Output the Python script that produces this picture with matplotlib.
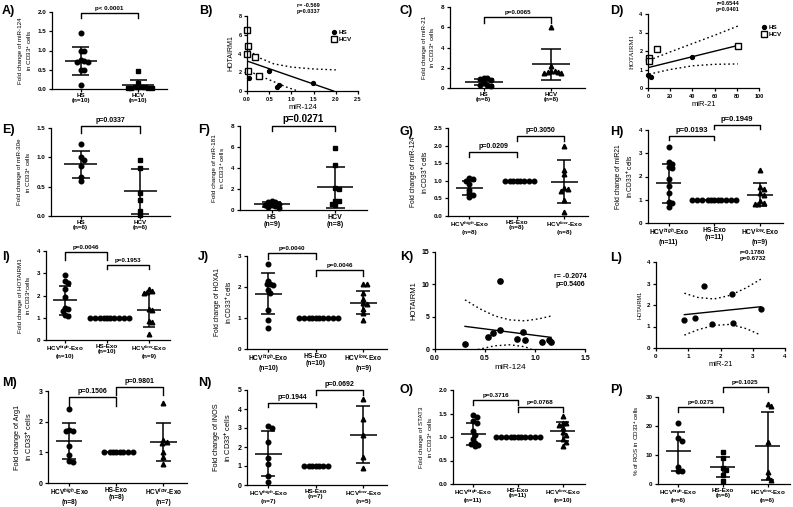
import numpy as np
import matplotlib
matplotlib.use('Agg')
import matplotlib.pyplot as plt

W, H = 793, 507

plt.rcParams['font.family'] = ['Liberation Sans', 'DejaVu Sans']
plt.rcParams['font.weight'] = 'bold'
plt.rcParams['mathtext.fontset'] = 'custom'
plt.rcParams['mathtext.rm'] = 'Liberation Sans:bold'
plt.rcParams['mathtext.it'] = 'Liberation Sans:italic:bold'
plt.rcParams['mathtext.bf'] = 'Liberation Sans:bold'

# ---- data ----
# A) miR-124, HS vs HCV
a_hs = [1.46, 1.0, 0.98, 0.76, 0.72, 0.70, 0.70, 0.50, 0.50, 0.10]
a_hcv = [0.47, 0.16, 0.06, 0.05, 0.05, 0.04, 0.03, 0.03, 0.02, 0.02]
a_mean = [0.73, 0.10]
a_sd = [0.37, 0.13]

# B) HOTAIRM1 vs miR-124
b_hs_x = [0.05, 0.50, 0.67, 0.73, 1.48]
b_hs_y = [1.4, 2.1, 0.45, 0.65, 0.85]
b_hcv_x = [0.0, 0.02, 0.0, 0.18, 0.03, 0.28]
b_hcv_y = [6.5, 4.8, 3.9, 3.6, 2.1, 1.6]
b_fit_x = [0.0, 1.95]
b_fit_y = [3.2, 0.0]
b_up_x = [0.05, 0.3, 0.6, 1.0, 1.5, 2.0]
b_up_y = [4.3, 3.5, 2.9, 2.55, 2.35, 2.25]
b_lo_x = [0.05, 0.3, 0.6, 0.9, 1.15]
b_lo_y = [2.1, 1.6, 1.0, 0.4, 0.0]

# C) miR-21, HS vs HCV
c_hs = [0.95, 0.95, 0.9, 0.8, 0.5, 0.3, 0.25, 0.2]
c_hcv = [6.05, 2.2, 1.7, 1.7, 1.6, 1.55, 1.5, 1.5]
c_mean = [0.55, 2.35]
c_sd = [0.3, 1.55]

# D) HOTAIRM1 vs miR-21
d_hs_x = [0.0, 1.0, 3.0, 40.0]
d_hs_y = [0.7, 0.65, 0.6, 1.7]
d_hcv_x = [1.0, 1.0, 8.0, 81.0]
d_hcv_y = [1.6, 1.45, 2.1, 2.25]
d_fit_x = [0.0, 81.0]
d_fit_y = [1.1, 2.3]
d_up_x = [1, 20, 40, 60, 81]
d_up_y = [1.5, 1.95, 2.4, 2.85, 3.35]
d_lo_x = [1, 20, 40, 60, 81]
d_lo_y = [0.75, 1.0, 1.2, 1.28, 1.3]

# E) miR-30e
e_hs = [1.22, 1.0, 0.95, 0.85, 0.67, 0.59]
e_hcv = [0.96, 0.81, 0.40, 0.27, 0.08, 0.01]
e_mean = [0.88, 0.42]
e_sd = [0.235, 0.38]

# F) miR-181
f_hs = [0.85, 0.8, 0.75, 0.55, 0.5, 0.5, 0.4, 0.3, 0.2]
f_hcv = [5.9, 4.25, 2.05, 2.0, 0.85, 0.85, 0.6, 0.45]
f_mean = [0.55, 2.15]
f_sd = [0.25, 1.95]

# G) miR-124 after exosome treatment
g_hi = [1.07, 1.05, 1.0, 0.92, 0.75, 0.65, 0.6, 0.55]
g_hs = [1.0] * 8
g_lo = [2.0, 1.3, 1.2, 0.8, 0.78, 0.72, 0.45, 0.1]
g_mean = [0.8, 1.0, 0.98]
g_sd = [0.19, 0.0, 0.62]

# H) miR21
h_hi = [3.25, 2.62, 2.55, 2.4, 2.38, 1.9, 1.6, 1.3, 0.9, 0.88, 0.7]
h_hs = [1.0] * 11
h_lo = [2.3, 1.55, 1.45, 1.3, 1.2, 0.95, 0.82, 0.8, 0.85]
h_mean = [1.7, 1.0, 1.22]
h_sd = [0.85, 0.0, 0.5]

# I) HOTAIRM1
i_hi = [2.9, 2.65, 2.55, 2.3, 1.95, 1.45, 1.38, 1.3, 1.12, 1.1]
i_hs = [1.0] * 10
i_lo = [2.3, 2.2, 2.15, 2.1, 1.4, 1.35, 0.85, 0.8, 0.25]
i_mean = [1.78, 1.0, 1.35]
i_sd = [0.66, 0.0, 0.75]

# J) HOXA1
j_hi = [2.75, 2.2, 2.1, 2.1, 2.08, 1.9, 1.8, 1.25, 0.95, 0.67]
j_hs = [1.0] * 10
j_lo = [2.1, 2.1, 1.8, 1.6, 1.48, 1.45, 1.3, 1.15, 0.95]
j_mean = [1.78, 1.0, 1.5]
j_sd = [0.66, 0.0, 0.38]

# K) HOTAIRM1 vs miR-124
k_x = [0.30, 0.53, 0.58, 0.65, 0.65, 0.82, 0.88, 0.90, 1.07, 1.14, 1.16]
k_y = [0.75, 1.8, 2.55, 10.5, 2.9, 1.6, 2.6, 1.4, 1.15, 1.4, 1.1]
k_fit_x = [0.30, 1.16]
k_fit_y = [3.5, 1.8]
k_up_x = [0.30, 0.45, 0.6, 0.75, 0.9, 1.05, 1.16]
k_up_y = [7.6, 6.2, 5.1, 4.5, 4.35, 4.7, 5.1]
k_lo_x = [0.30, 0.45, 0.6, 0.75, 0.9, 1.05, 1.16]
k_lo_y = [-0.6, 0.0, 0.5, 0.65, 0.35, -0.6, -1.5]

# L) HOTAIRM1 vs miR-21
l_x = [0.88, 1.2, 1.5, 1.75, 2.35, 2.4, 3.25]
l_y = [1.3, 1.4, 2.9, 1.1, 2.5, 1.15, 1.8]
l_fit_x = [0.88, 3.25]
l_fit_y = [1.55, 1.92]
l_up_x = [0.88, 1.3, 1.8, 2.3, 2.8, 3.25]
l_up_y = [2.55, 2.35, 2.28, 2.45, 2.8, 3.2]
l_lo_x = [0.88, 1.3, 1.8, 2.3, 2.8, 3.25]
l_lo_y = [0.6, 0.85, 1.05, 1.1, 0.9, 0.6]

# M) Arg1
m_hi = [2.4, 1.72, 1.7, 1.7, 1.2, 0.9, 0.72, 0.7]
m_hs = [1.0] * 8
m_lo = [2.6, 1.4, 1.35, 1.3, 1.0, 0.85, 0.62]
m_mean = [1.37, 1.0, 1.34]
m_sd = [0.6, 0.0, 0.62]

# N) iNOS
n_hi = [3.1, 3.0, 2.25, 1.4, 1.1, 0.5, 0.15]
n_hs = [1.0] * 7
n_lo = [4.55, 3.5, 2.65, 1.45, 0.88]
n_mean = [1.65, 1.0, 2.65]
n_sd = [1.18, 0.0, 1.5]

# O) STAT3
o_hi = [1.47, 1.43, 1.35, 1.3, 1.12, 1.05, 0.95, 0.88, 0.85, 0.82, 0.8]
o_hs = [1.0] * 11
o_lo = [1.45, 1.3, 1.3, 1.25, 1.2, 1.1, 1.05, 0.95, 0.9, 0.8]
o_mean = [1.07, 1.0, 1.12]
o_sd = [0.23, 0.0, 0.2]

# P) % ROS
p_hi = [21, 16, 15, 6, 4.5, 4.5]
p_hs = [11, 9, 5.5, 5, 3, 1]
p_lo = [27.5, 27, 14.5, 4, 2.5, 1.5]
p_mean = [11.3, 5.75, 13.0]
p_sd = [6.8, 3.5, 11.7]

fig = plt.figure(figsize=(W / 100, H / 100), dpi=100)


def add_ax(l, t, r, b, fs=4.5):
    ax = fig.add_axes([l / W, 1 - b / H, (r - l) / W, (b - t) / H])
    for s in ['top', 'right']:
        ax.spines[s].set_visible(False)
    for s in ['left', 'bottom']:
        ax.spines[s].set_linewidth(0.9)
    ax.tick_params(width=0.9, length=2.5, labelsize=fs, pad=1.5)
    return ax, r - l, b - t


def swarm(vals, sx, sy, d=3.4):
    vals = np.asarray(vals, dtype=float)
    order = np.argsort(-vals)
    placed = []
    offs = np.zeros(len(vals))
    cands = [0.0]
    for j in range(1, 40):
        cands += [j * d / 2, -j * d / 2]
    for i in order:
        y = vals[i] * sy
        for c in cands:
            if all(np.hypot(c - px, y - py) >= d for px, py in placed):
                break
        placed.append((c, y))
        offs[i] = c / sx
    return offs


def bracket(ax, x0, x1, top, drop, text, fs=5):
    ax.plot([x0, x0, x1, x1], [drop, top, top, drop], color='black', lw=1.0, clip_on=False)
    ax.annotate(text, ((x0 + x1) / 2, top), xytext=(0, 1.5), textcoords='offset points',
                ha='center', va='bottom', fontsize=fs, annotation_clip=False)


def dot_panel(rect, groups, means, sds, markers, names, ylim, yticks, ylabel,
              brackets, fs=4.5, lfs=5, pfs=5, ytl=None, yfs=None):
    ax, pw, ph = add_ax(*rect, fs=fs)
    n = len(groups)
    xlim = (-0.5, 1.5) if n == 2 else (-0.45, 2.5)
    ax.set_xlim(xlim)
    ax.set_ylim(ylim)
    sx = pw / (xlim[1] - xlim[0])
    sy = ph / (ylim[1] - ylim[0])
    for i, (vals, m, s, mk) in enumerate(zip(groups, means, sds, markers)):
        off = swarm(vals, sx, sy)
        ax.plot(i + off, vals, ls='none', marker=mk, ms=3.3, color='black', clip_on=False)
        ax.hlines(m, i - 0.28, i + 0.28, color='black', lw=1.1)
        if s > 0:
            ax.vlines(i, m - s, m + s, color='black', lw=1.1)
            ax.hlines([m - s, m + s], i - 0.15, i + 0.15, color='black', lw=1.1)
    ax.set_xticks(range(n))
    ax.set_xticklabels(['%s\n(n=%d)' % (nm, len(g)) for nm, g in zip(names, groups)],
                       fontsize=lfs, linespacing=1.1)
    ax.tick_params(axis='x', pad=0.8, length=2)
    ax.set_yticks(yticks)
    if ytl is not None:
        ax.set_yticklabels(ytl)
    ax.set_ylabel(ylabel, fontsize=yfs or lfs, labelpad=3, linespacing=1.3)
    for x0, x1, top, drop, txt in brackets:
        bracket(ax, x0, x1, top, drop, txt, fs=pfs)
    return ax


def band_panel(rect, xlim, ylim, xticks, yticks, xlabel, ylabel, fit, up, lo, fs=4.5, lfs=5.5):
    ax, pw, ph = add_ax(*rect, fs=fs)
    ax.set_xlim(xlim)
    ax.set_ylim(ylim)
    ax.set_xticks(xticks)
    ax.set_yticks(yticks)
    ax.plot(fit[0], fit[1], color='black', lw=1.0)
    ax.plot(up[0], up[1], color='black', lw=1.0, ls=(0, (1.2, 2.0)))
    ax.plot(lo[0], lo[1], color='black', lw=1.0, ls=(0, (1.2, 2.0)))
    ax.set_xlabel(xlabel, fontsize=lfs, labelpad=1.5)
    ax.set_ylabel(ylabel, fontsize=lfs - 0.5, labelpad=3)
    return ax


two = ['HS', 'HCV']
three = [r'HCV$^{high}$-Exo', 'HS-Exo', r'HCV$^{low}$-Exo']
cd33 = 'in CD33$^{+}$ cells'

# A
dot_panel((52, 12, 167, 89), [a_hs, a_hcv], a_mean, a_sd, ['o', 's'], two,
          (0, 2.0), [0, 0.5, 1.0, 1.5, 2.0], 'Fold change of miR-124\n' + cd33,
          [(0, 1, 1.98, 1.85, 'p< 0.0001')], fs=4.5, lfs=4.5, pfs=4.5,
          ytl=['0.0', '0.5', '1.0', '1.5', '2.0'])

# B
ax = band_panel((247, 16, 358, 91), (0, 2.5), (0, 8), [0, 0.5, 1.0, 1.5, 2.0, 2.5], [0, 2, 4, 6, 8],
                'miR-124', 'HOTAIRM1', (b_fit_x, b_fit_y), (b_up_x, b_up_y), (b_lo_x, b_lo_y), fs=4)
ax.set_xticklabels(['0.0', '0.5', '1.0', '1.5', '2.0', '2.5'])
ax.plot(b_hs_x, b_hs_y, 'o', color='black', ms=2.8, ls='none', label='HS', clip_on=False)
ax.plot(b_hcv_x, b_hcv_y, 's', mfc='white', mec='black', mew=1.0, ms=3.8, ls='none', label='HCV', clip_on=False)
ax.legend(loc='upper left', bbox_to_anchor=(0.74, 0.86), frameon=False, fontsize=4.5,
          handlelength=0.6, handletextpad=0.4, labelspacing=0.3, borderpad=0)
ax.text(0.55, 1.03, 'r= -0.569\np=0.0337', transform=ax.transAxes, ha='center', va='bottom', fontsize=4)

# C
dot_panel((450, 7, 585, 88), [c_hs, c_hcv], c_mean, c_sd, ['o', '^'], two,
          (0, 8), [0, 2, 4, 6, 8], 'Fold change of miR-21\n' + cd33,
          [(0, 1, 7.0, 6.4, 'p=0.0065')], fs=4.5, lfs=4.5, pfs=4.5)

# D
ax = band_panel((648, 14, 759, 88), (0, 100), (0, 4), [0, 20, 40, 60, 80, 100], [0, 1, 2, 3, 4],
                'miR-21', 'HOTAIRM1', (d_fit_x, d_fit_y), (d_up_x, d_up_y), (d_lo_x, d_lo_y), fs=4)
ax.yaxis.label.set_family('Liberation Serif')
ax.yaxis.label.set_weight('normal')
ax.plot(d_hs_x, d_hs_y, 'o', color='black', ms=2.8, ls='none', label='HS', clip_on=False)
ax.plot(d_hcv_x, d_hcv_y, 's', mfc='white', mec='black', mew=1.0, ms=3.8, ls='none', label='HCV', clip_on=False)
ax.legend(loc='upper left', bbox_to_anchor=(1.0, 0.9), frameon=False, fontsize=4.5,
          handlelength=0.6, handletextpad=0.4, labelspacing=0.3, borderpad=0)
ax.text(0.72, 1.03, 'r=0.6544\np=0.0401', transform=ax.transAxes, ha='center', va='bottom', fontsize=4)

# E
dot_panel((51, 128, 170, 216), [e_hs, e_hcv], e_mean, e_sd, ['o', 's'], two,
          (0, 1.5), [0, 0.5, 1.0, 1.5], 'Fold change of miR-30e\n' + cd33,
          [(0, 1, 1.53, 1.42, 'p=0.0337')], fs=4.5, lfs=4.5, pfs=5,
          ytl=['0.0', '0.5', '1.0', '1.5'])

# F
dot_panel((240, 126, 367, 210), [f_hs, f_hcv], f_mean, f_sd, ['o', 's'], two,
          (0, 8), [0, 2, 4, 6, 8], 'Fold change of miR-181\n' + cd33,
          [(0, 1, 8.0, 7.5, 'p=0.0271')], fs=4.5, lfs=5, pfs=7, yfs=4.6)

# G
dot_panel((448, 128, 588, 216), [g_hi, g_hs, g_lo], g_mean, g_sd, ['o', 'o', '^'], three,
          (0, 2.5), [0, 0.5, 1.0, 1.5, 2.0, 2.5], 'Fold change of miR-124\n' + cd33,
          [(0, 1, 1.82, 1.68, 'p=0.0209'), (1, 2, 2.27, 2.13, 'p=0.3050')],
          fs=4.5, lfs=4.6, pfs=5, ytl=['0.0', '0.5', '1.0', '1.5', '2.0', '2.5'], yfs=4.8)

# H
dot_panel((648, 130, 783, 223), [h_hi, h_hs, h_lo], h_mean, h_sd, ['o', 'o', '^'], three,
          (0, 4), [0, 1, 2, 3, 4], 'Fold change of miR21\n' + cd33,
          [(0, 1, 3.74, 3.57, 'p=0.0193'), (1, 2, 4.2, 4.04, 'p=0.1949')],
          fs=4.5, lfs=4.8, pfs=5.5)

# I
dot_panel((46, 251, 170, 340), [i_hi, i_hs, i_lo], i_mean, i_sd, ['o', 'o', '^'], three,
          (0, 4), [0, 1, 2, 3, 4], 'Fold change of HOTAIRM1\nin CD33$^{+}$cells',
          [(0, 1, 3.95, 3.6, 'p=0.0046'), (1, 2, 3.37, 3.2, 'p=0.1953')],
          fs=4.5, lfs=4.5, pfs=4.5)

# J
dot_panel((247, 256, 387, 349), [j_hi, j_hs, j_lo], j_mean, j_sd, ['o', 'o', '^'], three,
          (0, 3), [0, 1, 2, 3], 'Fold change of HOXA1\n' + cd33,
          [(0, 1, 3.1, 2.9, 'p=0.0040'), (1, 2, 2.55, 2.35, 'p=0.0046')],
          fs=4.5, lfs=4.8, pfs=4.5)

# K
ax = band_panel((435, 252, 585, 349), (0, 1.5), (0, 15), [0, 0.5, 1.0, 1.5], [0, 5, 10, 15],
                'miR-124', 'HOTAIRM1', (k_fit_x, k_fit_y), (k_up_x, k_up_y), (k_lo_x, k_lo_y),
                fs=5, lfs=6)
ax.set_xticklabels(['0.0', '0.5', '1.0', '1.5'])
ax.plot(k_x, k_y, 'o', color='black', ms=3.8, ls='none', clip_on=False)
ax.text(0.9, 0.78, 'r= -0.2074\np=0.5406', transform=ax.transAxes, ha='center', va='top', fontsize=5)

# L
ax = band_panel((656, 262, 785, 348), (0, 4), (0, 4), [0, 1, 2, 3, 4], [0, 1, 2, 3, 4],
                'miR-21', 'HOTAIRM1', (l_fit_x, l_fit_y), (l_up_x, l_up_y), (l_lo_x, l_lo_y),
                fs=4.5, lfs=5.5)
ax.yaxis.label.set_fontsize(4)
ax.yaxis.label.set_weight('normal')
ax.plot(l_x, l_y, 'o', color='black', ms=3.5, ls='none', clip_on=False)
ax.text(0.75, 1.01, 'r=0.1780\np=0.6732', transform=ax.transAxes, ha='center', va='bottom', fontsize=4.5)

# M
dot_panel((48, 391, 187, 483), [m_hi, m_hs, m_lo], m_mean, m_sd, ['o', 'o', '^'], three,
          (0, 3), [0, 1, 2, 3], 'Fold change of Arg1\n' + cd33,
          [(0, 1, 2.8, 2.5, 'p=0.1506'), (1, 2, 3.13, 2.87, 'p=0.9801')],
          fs=5, lfs=4.7, pfs=5, yfs=5.3)

# N
dot_panel((247, 390, 387, 485), [n_hi, n_hs, n_lo], n_mean, n_sd, ['o', 'o', '^'], three,
          (0, 5), [0, 1, 2, 3, 4, 5], 'Fold change of iNOS\n' + cd33,
          [(0, 1, 4.33, 4.12, 'p=0.1944'), (1, 2, 5.0, 4.74, 'p=0.0692')],
          fs=5, lfs=4.6, pfs=5, yfs=5.3)

# O
dot_panel((453, 390, 585, 484), [o_hi, o_hs, o_lo], o_mean, o_sd, ['o', 'o', '^'], three,
          (0, 2.0), [0, 0.5, 1.0, 1.5, 2.0], 'Fold change of STAT3\n' + cd33,
          [(0, 1, 1.79, 1.68, 'p=0.3716'), (1, 2, 1.64, 1.53, 'p=0.0768')],
          fs=4.5, lfs=4.5, pfs=4.5, ytl=['0.0', '0.5', '1.0', '1.5', '2.0'])

# P
dot_panel((658, 397, 790, 484), [p_hi, p_hs, p_lo], p_mean, p_sd, ['o', 's', '^'], three,
          (0, 30), [0, 10, 20, 30], '% of ROS in CD33$^{+}$ cells',
          [(0, 1, 26.5, 25.0, 'p=0.0275'), (1, 2, 33.4, 31.7, 'p=0.1025')],
          fs=4.5, lfs=4.5, pfs=4.5)

letters = [('A)', 2, 11), ('B)', 199, 11), ('C)', 400, 11), ('D)', 610, 11),
           ('E)', 2, 130), ('F)', 198, 130), ('G)', 400, 132), ('H)', 610, 132),
           ('I)', 2, 257), ('J)', 198, 257), ('K)', 400, 257), ('L)', 610, 258),
           ('M)', 2, 383), ('N)', 198, 383), ('O)', 400, 390), ('P)', 610, 390)]
for t, x, y in letters:
    fig.text(x / W, 1 - y / H, t, fontsize=9, fontweight='bold', ha='left', va='center')

fig.savefig('out.png', dpi=100)
